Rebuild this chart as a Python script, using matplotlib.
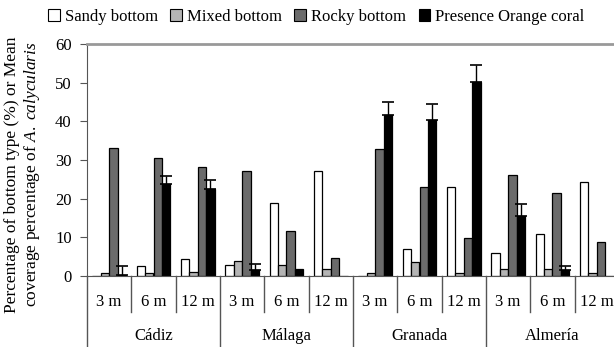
import numpy as np
import matplotlib
matplotlib.use("Agg")
import matplotlib.pyplot as plt
from matplotlib.patches import Patch

plt.rcParams['font.family'] = ['Liberation Serif', 'DejaVu Serif']
plt.rcParams['mathtext.fontset'] = 'custom'
plt.rcParams['mathtext.rm'] = 'Liberation Serif'
plt.rcParams['mathtext.it'] = 'Liberation Serif:italic'

# Datos
sites = ['Cádiz', 'Málaga', 'Granada', 'Almería']
depths = ['3 m', '6 m', '12 m']
series = ['Sandy bottom', 'Mixed bottom', 'Rocky bottom', 'Presence Orange coral']

sandy = [0, 2.6, 4.3, 2.8, 19.0, 27.2, 0, 7.0, 23.1, 6.0, 10.9, 24.2]
mixed = [0.8, 0.9, 1.1, 3.8, 2.8, 1.8, 0.8, 3.5, 0.9, 1.7, 1.7, 0.8]
rocky = [33.1, 30.6, 28.3, 27.2, 11.7, 4.6, 32.8, 23.1, 9.8, 26.2, 21.4, 8.7]
coral = [0.2, 23.8, 22.5, 1.5, 1.9, 0, 41.7, 40.4, 50.3, 15.6, 1.5, 0]
coral_err = [2.3, 2.1, 2.4, 1.5, 0, 0, 3.2, 4.1, 4.2, 3.1, 1.2, 0]

colors = ['white', '#b4b4b4', '#6b6b6b', 'black']

fig = plt.figure(figsize=(6.14, 3.47), dpi=100)
ax = fig.add_axes([87/614, 71/347, 532/614, 232/347])

n = len(sites) * len(depths)
x = np.arange(n)
w = 0.19
for k, (vals, c) in enumerate(zip([sandy, mixed, rocky, coral], colors)):
    pos = x + (k - 1.5) * w
    ax.bar(pos, vals, w, color=c, edgecolor='black', linewidth=0.9, zorder=2)
    if k == 3:
        err = np.array(coral_err)
        m = err > 0
        ax.errorbar(pos[m], np.array(vals)[m], yerr=[np.zeros(m.sum()), err[m]],
                    fmt='none', ecolor='black', elinewidth=1, capsize=4.5, capthick=1.2, zorder=3)

ax.set_xlim(-0.5, n - 0.5)
ax.set_ylim(0, 60)
ax.set_yticks(range(0, 61, 10))
ax.tick_params(axis='y', direction='out', length=5, labelsize=12, color='#555555', pad=6)
ax.set_xticks(x)
ax.set_xticklabels(depths * len(sites), fontsize=12)
ax.tick_params(axis='x', length=0, pad=13)

ax.spines['right'].set_visible(False)
ax.spines['top'].set_color('#999999')
ax.spines['top'].set_linewidth(2)
ax.spines['left'].set_color('#555555')
ax.spines['bottom'].set_color('#555555')

# Separadores del eje de categorias
tr = ax.get_xaxis_transform()
for i in range(n + 1):
    xs = i - 0.5
    if i % 3 == 0:
        ax.plot([xs, xs], [0, -0.31], color='#555555', lw=1, transform=tr, clip_on=False)
    else:
        ax.plot([xs, xs], [0, -0.155], color='#555555', lw=1, transform=tr, clip_on=False)
for j, s in enumerate(sites):
    ax.text(j * 3 + 1, -0.26, s, transform=tr, ha='center', va='center', fontsize=12)

fig.text(0.038, 0.497, 'Percentage of bottom type (%) or Mean\ncoverage percentage of $\\it{A.\\ calycularis}$',
         rotation=90, ha='center', va='center', multialignment='center', fontsize=12.5,
         linespacing=1.15)

handles = [Patch(facecolor=c, edgecolor='black', linewidth=0.8) for c in colors]
fig.legend(handles, series, loc='center', bbox_to_anchor=(0.515, 0.952), ncol=4, frameon=False,
           fontsize=12, handlelength=0.7, handleheight=0.7, handletextpad=0.3, columnspacing=0.75)

fig.savefig('out.png', dpi=100)
